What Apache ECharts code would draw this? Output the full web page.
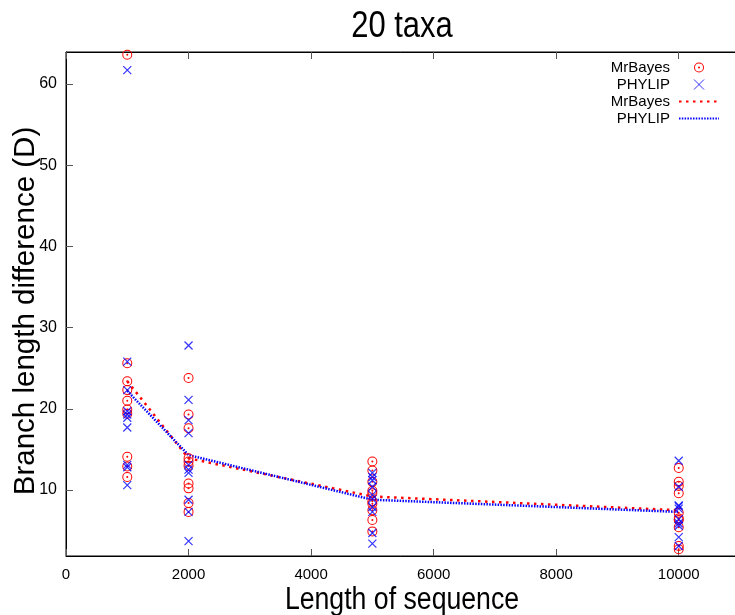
<!DOCTYPE html>
<html>
<head>
<meta charset="utf-8">
<title>20 taxa</title>
<script src="https://cdn.jsdelivr.net/npm/echarts@6/dist/echarts.min.js"></script>
<style>
  html, body { margin: 0; padding: 0; background: #fff; }
  #chart { width: 735px; height: 615px; }
</style>
</head>
<body>
<div id="chart"></div>
<script>
// Sequence lengths tested
const lengths = [1000, 2000, 5000, 10000];

// Branch length difference (D) per replicate, MrBayes
const mrbayes1000 = [63.6, 25.6, 23.4, 22.3, 21.0, 19.9, 19.4, 14.1, 12.9, 11.6];
const mrbayes2000 = [23.8, 19.3, 17.6, 13.9, 13.5, 13.0, 10.8, 10.2, 8.4, 7.3];
const mrbayes5000 = [13.5, 12.4, 11.0, 9.9, 9.6, 8.6, 8.3, 7.5, 6.3, 4.9];
const mrbayes10000 = [12.7, 11.0, 10.5, 9.6, 7.2, 6.5, 6.3, 5.4, 3.1, 2.7];

// Branch length difference (D) per replicate, PHYLIP
const phylip1000 = [61.7, 25.8, 22.3, 19.7, 19.3, 18.9, 17.7, 13.1, 12.8, 10.6];
const phylip2000 = [27.8, 21.1, 18.6, 17.0, 13.1, 12.5, 12.1, 8.8, 7.3, 3.7];
const phylip5000 = [12.1, 11.6, 11.2, 10.4, 9.4, 8.9, 7.9, 7.3, 4.7, 3.4];
const phylip10000 = [13.6, 10.4, 8.1, 8.0, 7.7, 6.4, 5.9, 5.6, 4.2, 3.1];

// Average D per sequence length
const mrbayesMean = [23.4, 13.9, 9.2, 7.5];
const phylipMean = [22.2, 14.3, 8.8, 7.3];

// Axis ticks
const xTicks = [0, 2000, 4000, 6000, 8000, 10000];
const yTicks = [10, 20, 30, 40, 50, 60];

const mrbayesRuns = [mrbayes1000, mrbayes2000, mrbayes5000, mrbayes10000];
const phylipRuns = [phylip1000, phylip2000, phylip5000, phylip10000];

function toPoints(runs) {
  const pts = [];
  runs.forEach(function (vals, i) {
    vals.forEach(function (v) { pts.push([lengths[i], v]); });
  });
  return pts;
}

const sans = "'Liberation Sans', Arial, Helvetica, sans-serif";

// open ring with a centre dot, and a diagonal cross
const ringDot = 'path://M0,-5 A5,5 0 0,1 0,5 A5,5 0 0,1 0,-5 Z M0,-4 A4,4 0 0,0 0,4 A4,4 0 0,0 0,-4 Z M0,-1 A1,1 0 0,1 0,1 A1,1 0 0,1 0,-1 Z';
const cross = 'path://M-4,-4 L4,4 M4,-4 L-4,4';

const chart = echarts.init(document.getElementById('chart'), null, { renderer: 'canvas' });

const legendNames = {
  'MrBayes': 'MrBayes',
  'PHYLIP': 'PHYLIP',
  'MrBayes mean': 'MrBayes',
  'PHYLIP mean': 'PHYLIP'
};
// line keys show only the dashed stroke, no marker
const hiddenSymbol = { color: 'rgba(0,0,0,0)', borderColor: 'rgba(0,0,0,0)', borderWidth: 0 };

chart.setOption({
  animation: false,
  backgroundColor: '#ffffff',
  graphic: [{
    // chart title, slightly condensed
    type: 'text',
    x: 402,
    y: 27,
    scaleX: 0.86,
    style: {
      text: '20 taxa',
      fontFamily: sans,
      fontSize: 36,
      fill: '#000',
      align: 'center',
      verticalAlign: 'middle'
    }
  }, {
    // x axis title
    type: 'text',
    x: 402,
    y: 600,
    scaleX: 0.86,
    style: {
      text: 'Length of sequence',
      fontFamily: sans,
      fontSize: 31,
      fill: '#000',
      align: 'center',
      verticalAlign: 'middle'
    }
  }],
  legend: {
    orient: 'vertical',
    align: 'right',
    right: 15,
    top: 59,
    padding: 0,
    itemWidth: 40,
    itemHeight: 10,
    itemGap: 0,
    selectedMode: false,
    textStyle: { fontFamily: sans, fontSize: 15, color: '#000', lineHeight: 17, padding: [0, 4, 0, 0] },
    formatter: function (name) { return legendNames[name]; },
    data: [
      { name: 'MrBayes' },
      { name: 'PHYLIP', itemStyle: { borderWidth: 1 } },
      { name: 'MrBayes mean', itemStyle: hiddenSymbol },
      { name: 'PHYLIP mean', itemStyle: hiddenSymbol }
    ]
  },
  grid: {
    left: 66,
    right: -5,
    top: 52,
    bottom: 59,
    outerBoundsMode: 'none',
    containLabel: false,
    show: true,
    borderColor: '#000',
    borderWidth: 1,
    backgroundColor: 'transparent'
  },
  xAxis: [{
    type: 'value',
    min: 0,
    max: 11000,
    axisLine: { show: true, lineStyle: { color: '#000', width: 1 } },
    axisTick: { show: true, inside: true, length: 7, customValues: xTicks, lineStyle: { color: '#555' } },
    axisLabel: {
      show: true, margin: 11, customValues: xTicks,
      formatter: function (v) { return String(v); },
      fontFamily: sans, fontSize: 15, color: '#000'
    },
    splitLine: { show: false }
  }, {
    type: 'value',
    position: 'top',
    min: 0,
    max: 11000,
    axisLine: { show: true, lineStyle: { color: '#000', width: 1 } },
    axisTick: { show: true, inside: true, length: 7, customValues: xTicks, lineStyle: { color: '#555' } },
    axisLabel: { show: false },
    splitLine: { show: false }
  }],
  yAxis: {
    type: 'value',
    min: 1.87,
    max: 63.94,
    name: 'Branch length difference (D)',
    nameLocation: 'middle',
    nameGap: 25,
    nameMoveOverlap: false,
    nameTextStyle: { fontFamily: sans, fontSize: 29.5, color: '#000', padding: [0, 14, 0, 0] },
    axisLine: { show: true, lineStyle: { color: '#000', width: 1 } },
    axisTick: { show: true, inside: true, length: 7, customValues: yTicks, lineStyle: { color: '#555' } },
    axisLabel: {
      show: true, margin: 9, customValues: yTicks,
      formatter: function (v) { return String(v); },
      fontFamily: sans, fontSize: 16, color: '#000'
    },
    splitLine: { show: false }
  },
  series: [{
    name: 'MrBayes',
    type: 'scatter',
    symbol: ringDot,
    symbolSize: 10,
    itemStyle: { color: '#ff0000', opacity: 1 },
    data: toPoints(mrbayesRuns),
    z: 3
  }, {
    name: 'PHYLIP',
    type: 'scatter',
    symbol: cross,
    symbolSize: 8,
    itemStyle: { color: '#0000ff', borderColor: '#0000ff', borderWidth: 1.2 },
    data: toPoints(phylipRuns),
    z: 4
  }, {
    name: 'MrBayes mean',
    type: 'line',
    symbol: 'none',
    showSymbol: false,
    lineStyle: { color: '#ff0000', width: 2.5, type: [2.5, 4.5] },
    itemStyle: { color: '#ff0000' },
    data: lengths.map(function (x, i) { return [x, mrbayesMean[i]]; }),
    z: 2
  }, {
    name: 'PHYLIP mean',
    type: 'line',
    symbol: 'none',
    showSymbol: false,
    lineStyle: { color: '#0000ff', width: 2.5, type: [1.5, 1.3] },
    itemStyle: { color: '#0000ff' },
    data: lengths.map(function (x, i) { return [x, phylipMean[i]]; }),
    z: 2
  }]
});
</script>
</body>
</html>
